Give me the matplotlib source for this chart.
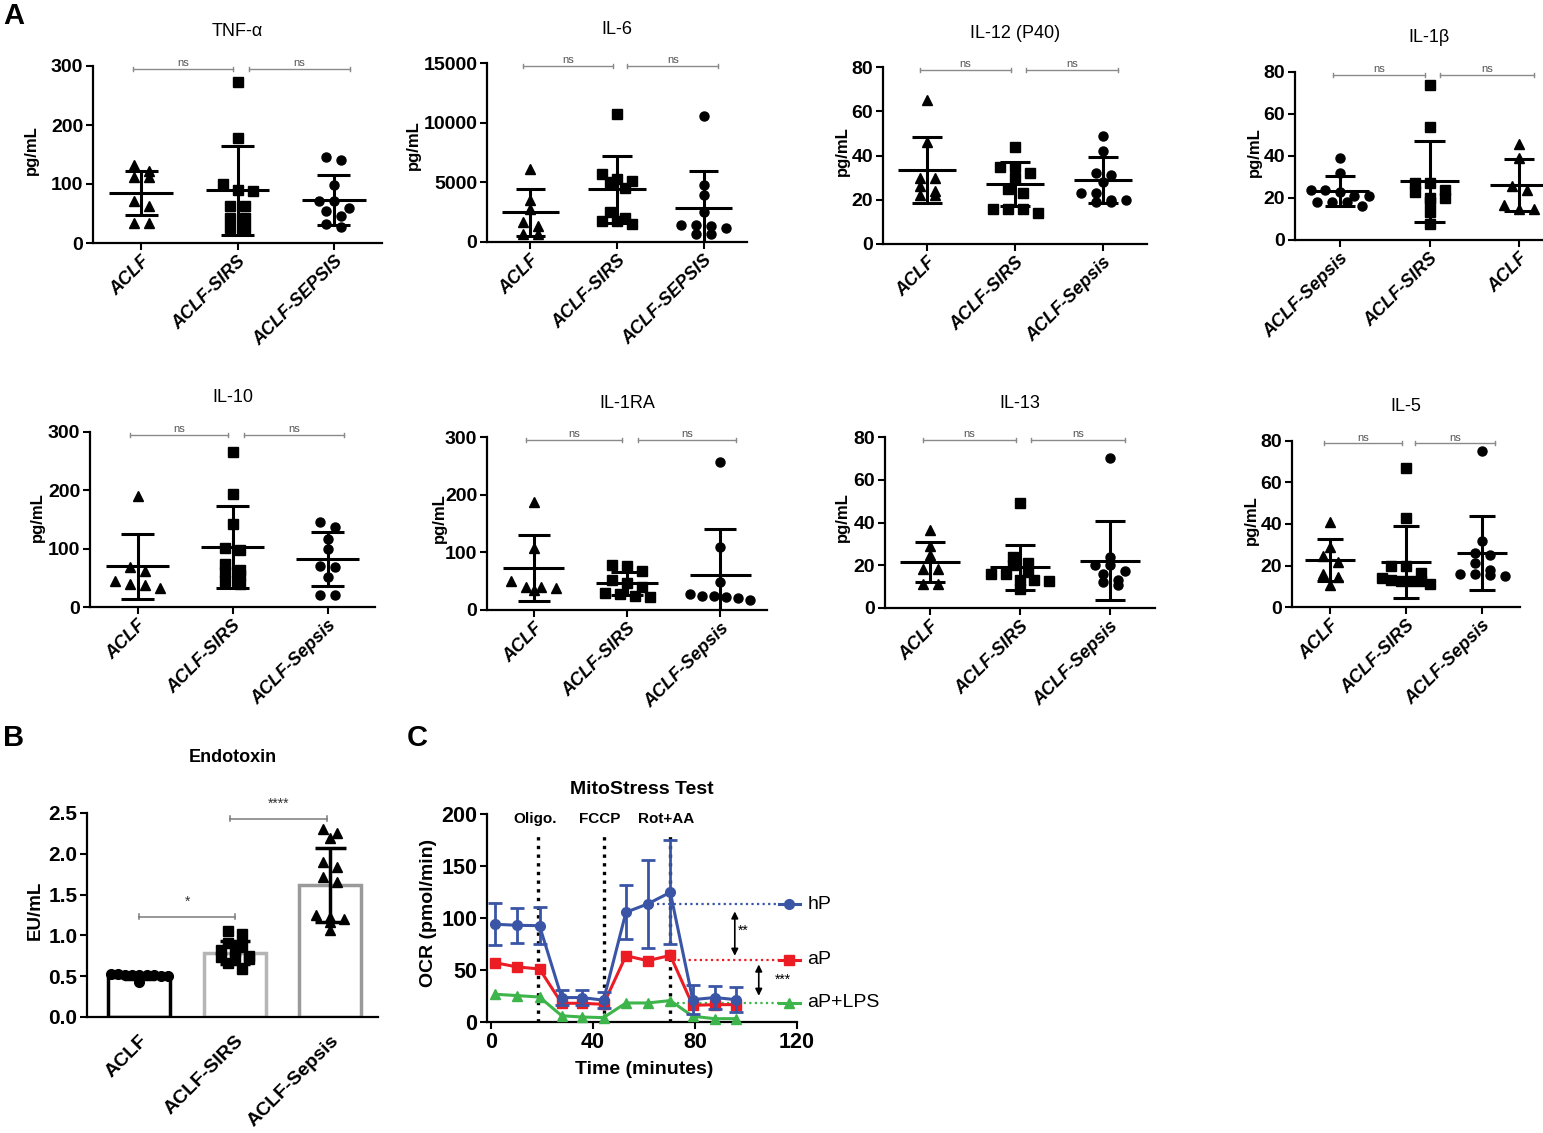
import matplotlib
matplotlib.use("Agg")
import matplotlib.pyplot as plt
import numpy as np

plt.rcParams["font.family"] = ["Liberation Sans", "DejaVu Sans"]

W, H = 1543, 1133

# ---------------- A: cytokines (pg/mL) ----------------
groups_a = ["ACLF", "ACLF-SIRS", "ACLF-Sepsis"]
groups_a_caps = ["ACLF", "ACLF-SIRS", "ACLF-SEPSIS"]
groups_il1b = ["ACLF-Sepsis", "ACLF-SIRS", "ACLF"]

tnf_aclf = [132, 122, 112, 112, 72, 62, 34, 34]
tnf_sirs = [273, 178, 100, 90, 88, 62, 62, 42, 42, 25, 25]
tnf_sepsis = [146, 140, 98, 72, 72, 60, 55, 45, 33, 27]
tnf_mean = [84.5, 89, 72.5]
tnf_sd = [37, 76, 42.5]

il6_aclf = [6100, 3500, 2800, 1700, 1300, 700, 700]
il6_sirs = [10700, 5700, 5300, 5100, 5000, 4500, 2500, 2000, 1800, 1800, 1500]
il6_sepsis = [10600, 4800, 3950, 2500, 1450, 1400, 1350, 1200, 700, 700]
il6_mean = [2490, 4400, 2860]
il6_sd = [1960, 2800, 3080]

il12_aclf = [65, 46, 30, 30, 26, 24, 22, 22]
il12_sirs = [44, 35, 35, 32, 30, 25, 23, 16, 16, 16, 14]
il12_sepsis = [49, 42, 32, 31, 28, 23, 23, 20, 20, 19, 19]
il12_mean = [33.5, 27.1, 29]
il12_sd = [15, 10, 10.3]

# IL-1b is plotted in the order Sepsis, SIRS, ACLF
il1b_sepsis = [39, 32, 24, 24, 23, 21, 21, 18, 18, 18, 16]
il1b_sirs = [74, 54, 27, 27, 24, 23, 20, 20, 18, 13.5, 7.6]
il1b_aclf = [45.6, 39, 25.6, 23.8, 16.6, 15, 15]
il1b_mean = [23.3, 28, 26.1]
il1b_sd = [7.2, 19.3, 12.3]

il10_aclf = [190, 68, 62, 44, 40, 38, 32]
il10_sirs = [265, 193, 143, 102, 97, 74, 63, 60, 55, 44, 40]
il10_sepsis = [146, 137, 117, 99, 70, 68, 52, 21, 21]
il10_mean = [69.5, 103, 82]
il10_sd = [55, 70, 46]

il1ra_aclf = [187, 108, 50, 40, 40, 38, 35]
il1ra_sirs = [78, 76, 67, 52, 47, 40, 30, 28, 25, 22]
il1ra_sepsis = [256, 109, 48, 27, 25, 25, 23, 20, 18]
il1ra_mean = [72.4, 46.3, 61]
il1ra_sd = [57, 19.5, 80]

il13_aclf = [36.3, 29, 24.6, 18.1, 18.1, 11.4, 11.4]
il13_sirs = [49, 24, 21, 20, 17, 16, 16, 13, 13, 12.5, 8.7]
il13_sepsis = [70.4, 24, 20, 20, 17.5, 16, 13, 12, 10.8]
il13_mean = [21.5, 19, 22.2]
il13_sd = [9.5, 10.7, 18.5]

il5_aclf = [41, 29, 24.5, 21.5, 16, 14.5, 10.8]
il5_sirs = [67, 43, 20, 20, 16.5, 14, 13, 12.5, 12.5, 12.5, 11]
il5_sepsis = [75, 32, 26, 25, 21, 18, 16, 16, 15.5, 15]
il5_mean = [22.6, 21.7, 26]
il5_sd = [10, 17.5, 18]

# ---------------- B: endotoxin (EU/mL) ----------------
endo_groups = ["ACLF", "ACLF-SIRS", "ACLF-Sepsis"]
endo_aclf = [0.53, 0.53, 0.52, 0.52, 0.52, 0.51, 0.51, 0.50, 0.50, 0.43]
endo_sirs = [1.05, 1.02, 0.91, 0.86, 0.82, 0.81, 0.75, 0.74, 0.73, 0.71, 0.66, 0.59]
endo_sepsis = [2.30, 2.25, 2.19, 1.90, 1.84, 1.72, 1.65, 1.25, 1.22, 1.20, 1.16, 1.07]
endo_mean = [0.49, 0.79, 1.62]
endo_sd = [0.03, 0.14, 0.45]

# ---------------- C: MitoStress test ----------------
time_min = [1.6, 10.1, 19.0, 27.7, 35.6, 44.1, 52.9, 61.4, 70.3, 79.1, 87.7, 96.1]
ocr_hp = [94, 93, 92.6, 23.5, 23.5, 21, 105.5, 113.5, 124.7, 21.5, 23.5, 21.5]
ocr_hp_sd = [20, 17, 18, 7, 7, 8, 26, 42, 50, 14, 11, 12]
ocr_ap = [57, 53, 51, 18, 18, 17, 63.7, 59, 64, 16, 16.7, 16.7]
ocr_aplps = [26.7, 25.4, 24, 6, 4.8, 4.2, 18.3, 18.3, 20.6, 5.5, 3.2, 3.2]
injection_times = [18.6, 44.1, 70.3]
injection_labels = ["Oligo.", "FCCP", "Rot+AA"]
series_names = ["hP", "aP", "aP+LPS"]
series_levels = [113, 60, 18.5]
level_starts = [65, 71, 73]


fig = plt.figure(figsize=(W / 100, H / 100), dpi=100)


def add_ax(box):
    left, right, bottom, top = box
    return fig.add_axes([left / W, 1 - bottom / H, (right - left) / W, (bottom - top) / H])


def style_axes(ax, tick_size):
    for s in ("top", "right"):
        ax.spines[s].set_visible(False)
    for s in ("left", "bottom"):
        ax.spines[s].set_linewidth(1.6)
    ax.tick_params(direction="out", length=5, width=1.5, labelsize=tick_size, pad=2)


def swarm(vals, px_per_unit, pitch, thresh=8, max_half=None):
    """spread points sitting at similar heights into centred rows (prism style)"""
    vals = np.asarray(vals, float)
    order = np.argsort(-vals, kind="stable")
    rows = []
    for i in order:
        if rows and abs(vals[rows[-1][0]] - vals[i]) * px_per_unit < thresh:
            rows[-1].append(i)
        else:
            rows.append([i])
    offs = np.zeros(len(vals))
    for row in rows:
        n = len(row)
        step = pitch
        if max_half is not None and n > 1 and (n - 1) * step / 2 > max_half:
            step = 2 * max_half / (n - 1)
        for k, i in enumerate(row):
            offs[i] = (k - (n - 1) / 2) * step
    return offs


def set_ylabel_px(ax, box, text, x_px, y_px, size):
    left, right, bottom, top = box
    ax.set_ylabel(text, fontsize=size, fontweight="bold", va="center")
    ax.yaxis.set_label_coords((x_px - left) / (right - left), (bottom - y_px) / (bottom - top))


def cyto_panel(box, title, labels, marks, series, means, sds, ymax, ystep, ylab_px):
    ax = add_ax(box)
    left, right, bottom, top = box
    cat_px = (right - left) / 3
    px_per_unit = (bottom - top) / ymax
    for i, vals in enumerate(series):
        vals = np.asarray(vals, float)
        off = swarm(vals, px_per_unit, 15 / cat_px, max_half=0.32)
        ax.plot(i + off, vals, ls="none", marker=marks[i], ms=6.5, color="black",
                clip_on=False, zorder=3)
        m, s = means[i], sds[i]
        ax.hlines(m, i - 0.33, i + 0.33, color="black", lw=2.2, zorder=4)
        ax.vlines(i, m - s, m + s, color="black", lw=2.2, zorder=4)
        ax.hlines([m - s, m + s], i - 0.17, i + 0.17, color="black", lw=2.2, zorder=4)

    # significance brackets
    yb = 0.985 * ymax
    for a, b in [(-0.08, 0.95), (1.12, 2.17)]:
        ax.plot([a, b], [yb, yb], color="#8a8a8a", lw=1, clip_on=False)
        for x in (a, b):
            ax.plot([x, x], [yb - 0.012 * ymax, yb + 0.012 * ymax], color="#8a8a8a",
                    lw=1, clip_on=False)
        ax.text((a + b) / 2, yb + 0.004 * ymax, "ns", ha="center", va="bottom",
                fontsize=8, color="#555555")

    ax.set_xlim(-0.5, 2.5)
    ax.set_ylim(0, ymax)
    ax.set_yticks(np.arange(0, ymax + 1, ystep))
    ax.set_xticks(range(3))
    style_axes(ax, 14)
    ax.set_xticklabels(labels, rotation=45, ha="right", rotation_mode="anchor",
                       fontsize=13, fontweight="bold", style="italic")
    for lab in ax.get_yticklabels():
        lab.set_fontweight("bold")
    ax.set_title(title, fontsize=13, y=1 + 34 / (bottom - top), va="center", pad=0)
    set_ylabel_px(ax, box, "pg/mL", ylab_px[0], ylab_px[1], 12)
    return ax


m_std = ["^", "s", "o"]
m_il1b = ["o", "s", "^"]

cyto_panel((93, 382, 243, 66), "TNF-\u03b1", groups_a_caps, m_std,
           [tnf_aclf, tnf_sirs, tnf_sepsis], tnf_mean, tnf_sd, 300, 100, (31, 150))
cyto_panel((487, 747, 242, 63), "IL-6", groups_a_caps, m_std,
           [il6_aclf, il6_sirs, il6_sepsis], il6_mean, il6_sd, 15000, 5000, (413, 145))
cyto_panel((883, 1147, 244, 67), "IL-12 (P40)", groups_a, m_std,
           [il12_aclf, il12_sirs, il12_sepsis], il12_mean, il12_sd, 80, 20, (842, 151))
cyto_panel((1295, 1564, 240, 72), "IL-1\u03b2", groups_il1b, m_il1b,
           [il1b_sepsis, il1b_sirs, il1b_aclf], il1b_mean, il1b_sd, 80, 20, (1254, 152))
cyto_panel((90, 375, 607, 432), "IL-10", groups_a, m_std,
           [il10_aclf, il10_sirs, il10_sepsis], il10_mean, il10_sd, 300, 100, (37, 517))
cyto_panel((487, 767, 610, 437), "IL-1RA", groups_a, m_std,
           [il1ra_aclf, il1ra_sirs, il1ra_sepsis], il1ra_mean, il1ra_sd, 300, 100, (439, 518))
cyto_panel((885, 1155, 608, 437), "IL-13", groups_a, m_std,
           [il13_aclf, il13_sirs, il13_sepsis], il13_mean, il13_sd, 80, 20, (842, 517))
cyto_panel((1292, 1520, 607, 441), "IL-5", groups_a, m_std,
           [il5_aclf, il5_sirs, il5_sepsis], il5_mean, il5_sd, 80, 20, (1251, 520))

# ---------------- panel B ----------------
box_b = (87, 378, 1017, 813)
axb = add_ax(box_b)
bar_edges = ["black", "#b5b5b5", "#9a9a9a"]
axb.bar(range(3), endo_mean, width=0.65, color="white", edgecolor=bar_edges,
        linewidth=2.5, zorder=1)
cat_px_b = (box_b[1] - box_b[0]) / 3.05
ppu_b = (box_b[2] - box_b[3]) / 2.5
for i, (vals, mk) in enumerate(zip([endo_aclf, endo_sirs, endo_sepsis], ["o", "s", "^"])):
    vals = np.asarray(vals, float)
    off = swarm(vals, ppu_b, 14 / cat_px_b, thresh=6, max_half=0.3)
    axb.plot(i + off, vals, ls="none", marker=mk, ms=7, color="black", zorder=3,
             clip_on=False)
    m, s = endo_mean[i], endo_sd[i]
    axb.vlines(i, m - s, m + s, color="black", lw=2.5, zorder=4)
    axb.hlines([m - s, m + s], i - 0.16, i + 0.16, color="black", lw=2.5, zorder=4)

for (a, b, y, star) in [(0, 1, 1.23, "*"), (0.95, 1.97, 2.43, "****")]:
    axb.plot([a, b], [y, y], color="#7a7a7a", lw=1.1, clip_on=False)
    for x in (a, b):
        axb.plot([x, x], [y - 0.03, y + 0.03], color="#7a7a7a", lw=1.1, clip_on=False)
    axb.text((a + b) / 2, y + 0.1, star, ha="center", va="bottom", fontsize=10,
             color="#333333")

axb.set_xlim(-0.55, 2.5)
axb.set_ylim(0, 2.5)
axb.set_yticks(np.arange(0, 2.51, 0.5))
axb.set_yticklabels([f"{v:.1f}" for v in np.arange(0, 2.51, 0.5)])
axb.set_xticks(range(3))
style_axes(axb, 15)
axb.tick_params(axis="x", length=0, pad=11)
axb.set_xticklabels(endo_groups, rotation=45, ha="right", rotation_mode="anchor",
                    fontsize=14, fontweight="bold")
for lab in axb.get_yticklabels():
    lab.set_fontweight("bold")
axb.set_title("Endotoxin", fontsize=13, fontweight="bold",
              y=1 + 56 / (box_b[2] - box_b[3]), va="center", pad=0)
set_ylabel_px(axb, box_b, "EU/mL", 35, 910, 13.5)

# ---------------- panel C ----------------
box_c = (487, 797, 1022, 814)
axc = add_ax(box_c)
c_blue, c_red, c_green = "#3a55a6", "#ec1c24", "#3db54a"

for t in injection_times:
    axc.plot([t, t], [0, 182], color="black", ls=(0, (1, 1.6)), lw=2.4, zorder=1)
for t, lab in zip(injection_times, injection_labels):
    axc.text(t - 1.5, 195, lab, ha="center", va="center", fontsize=11, fontweight="bold")

axc.plot(time_min, ocr_aplps, color=c_green, lw=2.2, marker="^", ms=7, zorder=3, clip_on=False)
axc.plot(time_min, ocr_ap, color=c_red, lw=2.2, marker="s", ms=7, zorder=4, clip_on=False)
axc.errorbar(time_min, ocr_hp, yerr=ocr_hp_sd, color=c_blue, lw=2.2, marker="o", ms=7,
             capsize=5, capthick=2, elinewidth=2, zorder=5, clip_on=False)

for name, lvl, x0, col in zip(series_names, series_levels, level_starts,
                              [c_blue, c_red, c_green]):
    axc.plot([x0, 113], [lvl, lvl], color=col, ls=(0, (1, 1.5)), lw=1.6, zorder=2,
             clip_on=False)
    mk = {"hP": "o", "aP": "s", "aP+LPS": "^"}[name]
    axc.plot([113, 121], [lvl, lvl], color=col, lw=2.2, clip_on=False)
    axc.plot([117], [lvl], color=col, marker=mk, ms=7, clip_on=False)
    axc.text(124, lvl, name, ha="left", va="center", fontsize=14, clip_on=False)

axc.annotate("", xy=(95.6, 61), xytext=(95.6, 109),
             arrowprops=dict(arrowstyle="<|-|>", color="black", lw=1.2, mutation_scale=10))
axc.annotate("", xy=(105, 22.5), xytext=(105, 58),
             arrowprops=dict(arrowstyle="<|-|>", color="black", lw=1.2, mutation_scale=10))
axc.text(99, 88, "**", ha="center", va="center", fontsize=10)
axc.text(114.5, 41, "***", ha="center", va="center", fontsize=10)

axc.set_xlim(-1.6, 120)
axc.set_ylim(0, 200)
axc.set_xticks([0, 40, 80, 120])
axc.set_yticks(range(0, 201, 50))
style_axes(axc, 15.5)
for lab in axc.get_xticklabels() + axc.get_yticklabels():
    lab.set_fontweight("bold")
axc.set_title("MitoStress Test", fontsize=14, fontweight="bold",
              y=1 + 25 / (box_c[2] - box_c[3]), va="center", pad=0)
set_ylabel_px(axc, box_c, "OCR (pmol/min)", 428, 913, 14)
axc.set_xlabel("Time (minutes)", fontsize=14, fontweight="bold", va="center")
axc.xaxis.set_label_coords((644 - box_c[0]) / (box_c[1] - box_c[0]),
                           (box_c[2] - 1070) / (box_c[2] - box_c[3]))

# panel letters
for letter, (x, y) in zip("ABC", [(14, 16), (14, 738), (417, 738)]):
    fig.text(x / W, 1 - y / H, letter, fontsize=21, fontweight="bold", ha="center", va="center")

fig.savefig("out.png", dpi=100)
